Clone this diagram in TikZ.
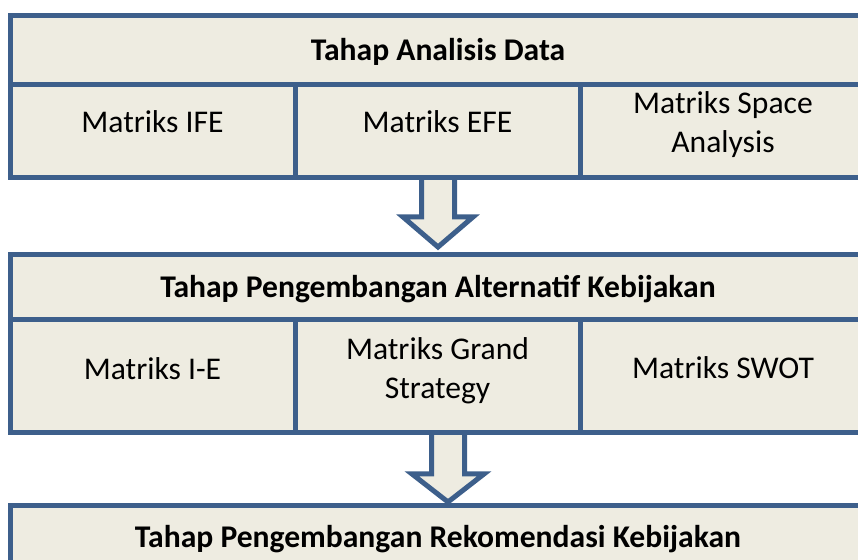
\documentclass[tikz,border=0pt]{standalone}
\usepackage{fontspec}
\setmainfont{Carlito}
\definecolor{bfill}{HTML}{EEECE1}
\definecolor{bline}{HTML}{3D5F8B}
\begin{document}
\begin{tikzpicture}[x=0.5pt,y=-0.5pt,
  cell/.style={draw=bline,fill=bfill,line width=2.5pt},
  sep/.style={draw=bline,line width=2.5pt},
  lbl/.style={font=\fontsize{15.8}{19.5}\selectfont,anchor=base,align=center,inner sep=0pt},
  ttl/.style={lbl,font=\fontsize{15.8}{19.5}\selectfont\bfseries},
  blockarrow/.style={draw=bline,fill=bfill,line width=2.5pt,line join=miter}]
\useasboundingbox (0,0) rectangle (858,560);
\clip (0,0) rectangle (858,560);
% arrows (drawn first so box borders lie on top)
\coordinate (a1top) at (438,178);
\coordinate (a1tip) at (438,247);
\draw[blockarrow] (421.5,178) -- (421.5,217) -- (403,217) -- (a1tip) -- (473,217) -- (454.5,217) -- (454.5,178);
\coordinate (a2top) at (448,433);
\coordinate (a2tip) at (448,502);
\draw[blockarrow] (431.5,433) -- (431.5,474) -- (412,474) -- (a2tip) -- (484,474) -- (464.5,474) -- (464.5,433);
% box 1
\draw[cell] (10,16) rectangle (866,178);
\draw[sep] (10,85) -- (866,85) (295,85) -- (295,178) (580,85) -- (580,178);
\node[ttl] (t1) at (438,60.5) {Tahap Analisis Data};
\node[lbl] (ife) at (152.5,133) {Matriks IFE};
\node[lbl] (efe) at (437.5,133) {Matriks EFE};
\node[lbl] (spc) at (723,153) {Matriks Space\\Analysis};
% box 2
\draw[cell] (10,255) rectangle (866,433);
\draw[sep] (10,320) -- (866,320) (295,320) -- (295,433) (580,320) -- (580,433);
\node[ttl] (t2) at (438,298) {Tahap Pengembangan Alternatif Kebijakan};
\node[lbl] (ie) at (152.5,380) {Matriks I-E};
\node[lbl] (grand) at (437.5,399) {Matriks Grand\\Strategy};
\node[lbl] (swot) at (723,379) {Matriks SWOT};
% box 3
\draw[cell] (10,506) rectangle (866,620);
\node[ttl] (t3) at (438,548) {Tahap Pengembangan Rekomendasi Kebijakan};
\end{tikzpicture}
\end{document}
